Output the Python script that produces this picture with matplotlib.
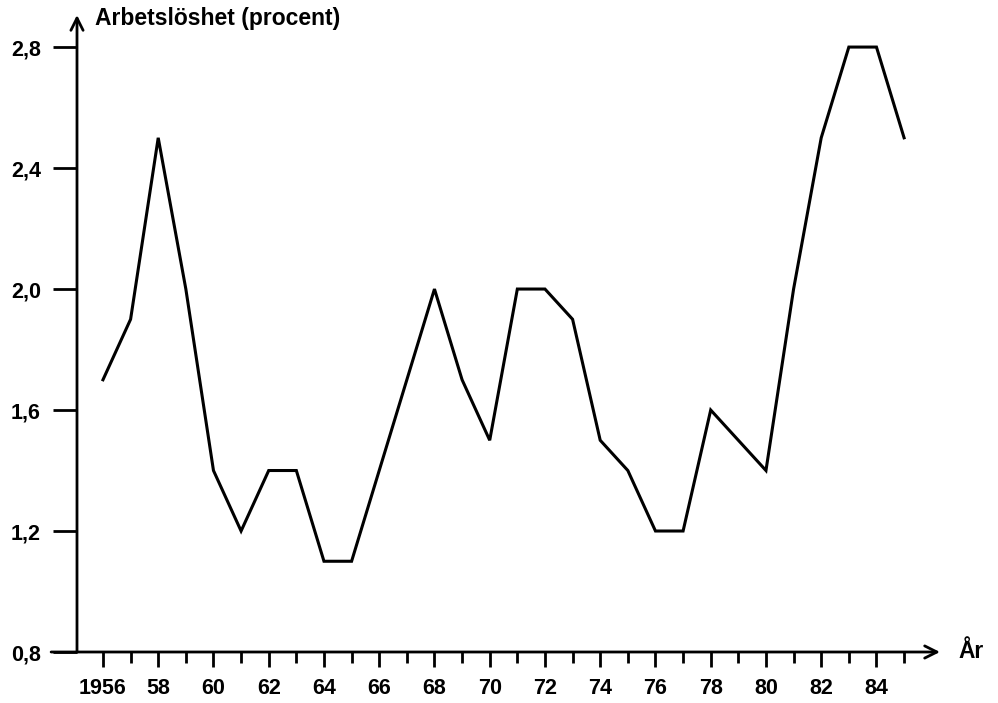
import matplotlib.pyplot as plt

years = list(range(1956, 1986))
rate = [1.7, 1.9, 2.5, 2.0, 1.4, 1.2, 1.4, 1.4, 1.1, 1.1,
        1.4, 1.7, 2.0, 1.7, 1.5, 2.0, 2.0, 1.9, 1.5, 1.4,
        1.2, 1.2, 1.6, 1.5, 1.4, 2.0, 2.5, 2.8, 2.8, 2.5]
xticks = list(range(1956, 1986, 2))
xlabels = ["1956"] + [str(y)[2:] for y in xticks[1:]]
yticks = [0.8, 1.2, 1.6, 2.0, 2.4, 2.8]
ylabels = ["0,8", "1,2", "1,6", "2,0", "2,4", "2,8"]

plt.rcParams['font.family'] = ['Liberation Sans', 'DejaVu Sans']

fig = plt.figure(figsize=(9.98, 7.03), dpi=100)
ax = fig.add_axes([77 / 998, 51 / 703, 863 / 998, 637 / 703])

ax.plot(years, rate, color='black', lw=2.2, solid_joinstyle='miter')

ax.set_xlim(1955.06, 1986.3)
ax.set_ylim(0.8, 2.906)

for s in ax.spines.values():
    s.set_visible(False)

# axes drawn as arrows
ax.annotate('', xy=(1, 0), xytext=(-0.03, 0), xycoords='axes fraction',
            arrowprops=dict(arrowstyle='->', lw=2, color='black',
                            mutation_scale=22, shrinkA=0, shrinkB=0))
ax.annotate('', xy=(0, 1), xytext=(0, 0), xycoords='axes fraction',
            arrowprops=dict(arrowstyle='->', lw=2, color='black',
                            mutation_scale=22, shrinkA=0, shrinkB=0))

ax.set_xticks(xticks, labels=xlabels)
ax.set_xticks(range(1956, 1986), minor=True)
ax.set_yticks(yticks, labels=ylabels)
ax.tick_params(axis='x', which='major', direction='out', length=11, width=2,
               pad=8, labelsize=15.5)
ax.tick_params(axis='x', which='minor', direction='out', length=8, width=2)
ax.tick_params(axis='y', direction='out', length=17, width=2, pad=9,
               labelsize=15.5)
for t in ax.get_xticklabels() + ax.get_yticklabels():
    t.set_fontweight('semibold')

ax.text(95 / 998, 1 - 18 / 703, "Arbetslöshet (procent)", transform=fig.transFigure,
        fontsize=16.5, fontweight='semibold', va='center', ha='left')
ax.text(958 / 998, 1 - 651 / 703, "År", transform=fig.transFigure,
        fontsize=16.5, fontweight='semibold', va='center', ha='left')

fig.savefig('out.png', dpi=100)
